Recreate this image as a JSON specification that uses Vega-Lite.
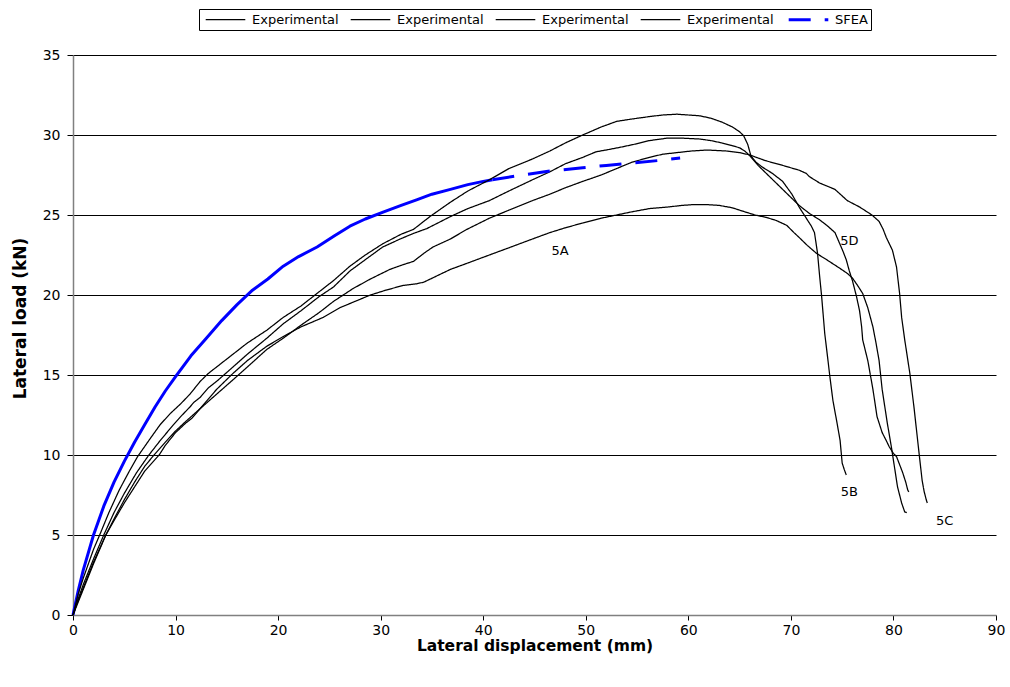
{
  "$schema": "https://vega.github.io/schema/vega-lite/v6.json",
  "width": 923,
  "height": 560,
  "autosize": {"type": "none"},
  "padding": {"left": 73, "top": 55, "right": 14, "bottom": 72},
  "background": "white",
  "config": {"view": {"stroke": null}, "font": "DejaVu Sans"},
  "datasets": {
    "labels": [
      {"label": "5A", "x": 47.5, "y": 22.75},
      {"label": "5B", "x": 75.7, "y": 7.7},
      {"label": "5C", "x": 85.0, "y": 5.9},
      {"label": "5D", "x": 75.7, "y": 23.4}
    ],
    "curves": [
{"series":"5A","x":0,"y":0},{"series":"5A","x":0.5,"y":0.8},{"series":"5A","x":1,"y":1.6},{"series":"5A","x":2,"y":3.2},{"series":"5A","x":3.2,"y":5.0},{"series":"5A","x":4,"y":5.9},{"series":"5A","x":5,"y":7.0},{"series":"5A","x":6,"y":8.0},{"series":"5A","x":7,"y":9.0},{"series":"5A","x":8.4,"y":10.0},{"series":"5A","x":9,"y":10.6},{"series":"5A","x":10,"y":11.4},{"series":"5A","x":11,"y":12.0},{"series":"5A","x":11.6,"y":12.3},{"series":"5A","x":12.4,"y":12.9},{"series":"5A","x":14,"y":14.1},{"series":"5A","x":15.6,"y":15.1},{"series":"5A","x":17,"y":15.9},{"series":"5A","x":18.9,"y":16.8},{"series":"5A","x":20.5,"y":17.4},{"series":"5A","x":22.2,"y":18.0},{"series":"5A","x":24.4,"y":18.6},{"series":"5A","x":26,"y":19.2},{"series":"5A","x":27.5,"y":19.6},{"series":"5A","x":29,"y":20.0},{"series":"5A","x":30.5,"y":20.3},{"series":"5A","x":32.2,"y":20.6},{"series":"5A","x":33.5,"y":20.7},{"series":"5A","x":34.2,"y":20.8},{"series":"5A","x":35.5,"y":21.2},{"series":"5A","x":36.8,"y":21.6},{"series":"5A","x":38.5,"y":22.0},{"series":"5A","x":40.6,"y":22.5},{"series":"5A","x":42.5,"y":22.95},{"series":"5A","x":44.8,"y":23.5},{"series":"5A","x":46.5,"y":23.9},{"series":"5A","x":48,"y":24.2},{"series":"5A","x":49.7,"y":24.5},{"series":"5A","x":51.5,"y":24.8},{"series":"5A","x":53,"y":25.0},{"series":"5A","x":54.5,"y":25.2},{"series":"5A","x":56.2,"y":25.4},{"series":"5A","x":58,"y":25.5},{"series":"5A","x":59.4,"y":25.6},{"series":"5A","x":60.5,"y":25.65},{"series":"5A","x":61.8,"y":25.65},{"series":"5A","x":63,"y":25.6},{"series":"5A","x":64.3,"y":25.45},{"series":"5A","x":65.5,"y":25.2},{"series":"5A","x":66.5,"y":25.0},{"series":"5A","x":67.6,"y":24.85},{"series":"5A","x":68.6,"y":24.65},{"series":"5A","x":69.6,"y":24.35},{"series":"5A","x":70.3,"y":23.9},{"series":"5A","x":70.8,"y":23.6},{"series":"5A","x":71.6,"y":23.1},{"series":"5A","x":72.5,"y":22.6},{"series":"5A","x":73.5,"y":22.2},{"series":"5A","x":74.7,"y":21.7},{"series":"5A","x":75.5,"y":21.35},{"series":"5A","x":76.0,"y":21.06},{"series":"5A","x":76.5,"y":20.6},{"series":"5A","x":77.0,"y":20.1},{"series":"5A","x":77.5,"y":19.2},{"series":"5A","x":78.0,"y":18.0},{"series":"5A","x":78.3,"y":17.0},{"series":"5A","x":78.6,"y":15.9},{"series":"5A","x":78.9,"y":14.1},{"series":"5A","x":79.4,"y":12.0},{"series":"5A","x":79.8,"y":10.5},{"series":"5A","x":80.1,"y":9.25},{"series":"5A","x":80.4,"y":8.0},{"series":"5A","x":80.8,"y":7.0},{"series":"5A","x":81.1,"y":6.44},{"series":"5A","x":81.3,"y":6.4},
{"series":"5B","x":0,"y":0},{"series":"5B","x":0.5,"y":1.3},{"series":"5B","x":1,"y":2.3},{"series":"5B","x":2,"y":4.1},{"series":"5B","x":2.6,"y":5.0},{"series":"5B","x":3.5,"y":6.4},{"series":"5B","x":4.5,"y":7.8},{"series":"5B","x":5.5,"y":9.0},{"series":"5B","x":6.3,"y":9.9},{"series":"5B","x":7.5,"y":11.0},{"series":"5B","x":8.5,"y":11.9},{"series":"5B","x":9.5,"y":12.6},{"series":"5B","x":10,"y":12.9},{"series":"5B","x":10.5,"y":13.2},{"series":"5B","x":11.4,"y":13.8},{"series":"5B","x":12.4,"y":14.6},{"series":"5B","x":13.2,"y":15.1},{"series":"5B","x":14.2,"y":15.6},{"series":"5B","x":15.6,"y":16.3},{"series":"5B","x":17,"y":17.0},{"series":"5B","x":18.9,"y":17.8},{"series":"5B","x":20.5,"y":18.6},{"series":"5B","x":22.2,"y":19.3},{"series":"5B","x":24,"y":20.2},{"series":"5B","x":25.4,"y":20.9},{"series":"5B","x":27,"y":21.8},{"series":"5B","x":28.5,"y":22.5},{"series":"5B","x":30.2,"y":23.2},{"series":"5B","x":32,"y":23.8},{"series":"5B","x":33.2,"y":24.1},{"series":"5B","x":34.8,"y":24.9},{"series":"5B","x":36.8,"y":25.8},{"series":"5B","x":38.5,"y":26.5},{"series":"5B","x":40.6,"y":27.2},{"series":"5B","x":42.5,"y":27.9},{"series":"5B","x":44.8,"y":28.5},{"series":"5B","x":46.5,"y":29.0},{"series":"5B","x":48,"y":29.5},{"series":"5B","x":49.7,"y":30.0},{"series":"5B","x":51.5,"y":30.5},{"series":"5B","x":53,"y":30.85},{"series":"5B","x":54.5,"y":31.0},{"series":"5B","x":56.2,"y":31.15},{"series":"5B","x":57.5,"y":31.25},{"series":"5B","x":58.9,"y":31.3},{"series":"5B","x":60,"y":31.25},{"series":"5B","x":61.1,"y":31.2},{"series":"5B","x":62.2,"y":31.05},{"series":"5B","x":63.3,"y":30.8},{"series":"5B","x":64.3,"y":30.5},{"series":"5B","x":65,"y":30.2},{"series":"5B","x":65.4,"y":29.95},{"series":"5B","x":65.8,"y":29.4},{"series":"5B","x":66.1,"y":28.7},{"series":"5B","x":66.6,"y":28.3},{"series":"5B","x":67.2,"y":28.0},{"series":"5B","x":68.2,"y":27.6},{"series":"5B","x":69.2,"y":27.1},{"series":"5B","x":70.1,"y":26.3},{"series":"5B","x":70.8,"y":25.5},{"series":"5B","x":71.5,"y":24.8},{"series":"5B","x":72.0,"y":24.3},{"series":"5B","x":72.3,"y":23.9},{"series":"5B","x":72.6,"y":22.6},{"series":"5B","x":72.8,"y":21.2},{"series":"5B","x":73.0,"y":19.9},{"series":"5B","x":73.3,"y":17.6},{"series":"5B","x":73.6,"y":16.0},{"series":"5B","x":73.8,"y":14.9},{"series":"5B","x":74.1,"y":13.4},{"series":"5B","x":74.5,"y":12.0},{"series":"5B","x":74.8,"y":10.9},{"series":"5B","x":75.0,"y":9.5},{"series":"5B","x":75.2,"y":9.1},{"series":"5B","x":75.4,"y":8.75},
{"series":"5C","x":0,"y":0},{"series":"5C","x":0.5,"y":0.9},{"series":"5C","x":1,"y":1.7},{"series":"5C","x":2,"y":3.3},{"series":"5C","x":3.2,"y":5.0},{"series":"5C","x":4,"y":6.0},{"series":"5C","x":5,"y":7.2},{"series":"5C","x":6,"y":8.3},{"series":"5C","x":7,"y":9.3},{"series":"5C","x":7.9,"y":10.0},{"series":"5C","x":9,"y":10.8},{"series":"5C","x":10,"y":11.5},{"series":"5C","x":11,"y":12.1},{"series":"5C","x":12.4,"y":12.9},{"series":"5C","x":14,"y":13.8},{"series":"5C","x":15.6,"y":14.7},{"series":"5C","x":17,"y":15.5},{"series":"5C","x":18.9,"y":16.6},{"series":"5C","x":20.5,"y":17.3},{"series":"5C","x":22.2,"y":18.1},{"series":"5C","x":24,"y":18.9},{"series":"5C","x":25.4,"y":19.6},{"series":"5C","x":27.3,"y":20.4},{"series":"5C","x":29,"y":21.0},{"series":"5C","x":30.9,"y":21.6},{"series":"5C","x":32.2,"y":21.9},{"series":"5C","x":33.2,"y":22.1},{"series":"5C","x":34.2,"y":22.6},{"series":"5C","x":35.1,"y":23.0},{"series":"5C","x":36.8,"y":23.5},{"series":"5C","x":38.4,"y":24.1},{"series":"5C","x":40.6,"y":24.8},{"series":"5C","x":42.5,"y":25.3},{"series":"5C","x":44.8,"y":25.9},{"series":"5C","x":46.5,"y":26.3},{"series":"5C","x":48,"y":26.7},{"series":"5C","x":49.7,"y":27.1},{"series":"5C","x":51.5,"y":27.5},{"series":"5C","x":53,"y":27.9},{"series":"5C","x":54.5,"y":28.3},{"series":"5C","x":56.2,"y":28.6},{"series":"5C","x":57.5,"y":28.8},{"series":"5C","x":58.9,"y":28.9},{"series":"5C","x":60.3,"y":29.0},{"series":"5C","x":61.8,"y":29.06},{"series":"5C","x":63.7,"y":29.0},{"series":"5C","x":65,"y":28.9},{"series":"5C","x":66,"y":28.75},{"series":"5C","x":67.5,"y":28.4},{"series":"5C","x":69.2,"y":28.1},{"series":"5C","x":70.8,"y":27.8},{"series":"5C","x":71.5,"y":27.6},{"series":"5C","x":71.8,"y":27.4},{"series":"5C","x":72.3,"y":27.2},{"series":"5C","x":72.8,"y":27.0},{"series":"5C","x":74.3,"y":26.6},{"series":"5C","x":75.5,"y":25.9},{"series":"5C","x":76.7,"y":25.5},{"series":"5C","x":77.9,"y":25.0},{"series":"5C","x":78.6,"y":24.6},{"series":"5C","x":79.0,"y":24.1},{"series":"5C","x":79.3,"y":23.6},{"series":"5C","x":79.9,"y":22.8},{"series":"5C","x":80.3,"y":21.75},{"series":"5C","x":80.6,"y":20.1},{"series":"5C","x":80.8,"y":18.6},{"series":"5C","x":81.1,"y":17.2},{"series":"5C","x":81.6,"y":15.1},{"series":"5C","x":82.0,"y":13.0},{"series":"5C","x":82.5,"y":10.1},{"series":"5C","x":82.8,"y":8.4},{"series":"5C","x":83.0,"y":7.7},{"series":"5C","x":83.2,"y":7.2},{"series":"5C","x":83.3,"y":7.0},
{"series":"5D","x":0,"y":0},{"series":"5D","x":0.5,"y":1.0},{"series":"5D","x":1,"y":1.9},{"series":"5D","x":2,"y":3.5},{"series":"5D","x":3,"y":5.0},{"series":"5D","x":4,"y":6.4},{"series":"5D","x":5,"y":7.6},{"series":"5D","x":6.2,"y":8.9},{"series":"5D","x":7.4,"y":10.0},{"series":"5D","x":8.5,"y":10.9},{"series":"5D","x":9.8,"y":11.9},{"series":"5D","x":10.5,"y":12.4},{"series":"5D","x":11.4,"y":13.0},{"series":"5D","x":11.8,"y":13.3},{"series":"5D","x":12.4,"y":13.6},{"series":"5D","x":13.2,"y":14.2},{"series":"5D","x":14,"y":14.6},{"series":"5D","x":15.6,"y":15.5},{"series":"5D","x":17,"y":16.3},{"series":"5D","x":18.9,"y":17.3},{"series":"5D","x":20.5,"y":18.2},{"series":"5D","x":22.2,"y":19.0},{"series":"5D","x":24,"y":19.9},{"series":"5D","x":25.4,"y":20.5},{"series":"5D","x":27,"y":21.5},{"series":"5D","x":28.7,"y":22.3},{"series":"5D","x":30.2,"y":23.0},{"series":"5D","x":31.9,"y":23.5},{"series":"5D","x":33.2,"y":23.85},{"series":"5D","x":34.5,"y":24.15},{"series":"5D","x":36.8,"y":24.9},{"series":"5D","x":38.5,"y":25.4},{"series":"5D","x":40.6,"y":25.9},{"series":"5D","x":42.5,"y":26.5},{"series":"5D","x":44.8,"y":27.2},{"series":"5D","x":46.5,"y":27.7},{"series":"5D","x":48,"y":28.2},{"series":"5D","x":49.7,"y":28.6},{"series":"5D","x":51,"y":28.95},{"series":"5D","x":52.3,"y":29.1},{"series":"5D","x":53.5,"y":29.25},{"series":"5D","x":54.6,"y":29.4},{"series":"5D","x":56.2,"y":29.65},{"series":"5D","x":57.9,"y":29.8},{"series":"5D","x":59.5,"y":29.8},{"series":"5D","x":61.1,"y":29.75},{"series":"5D","x":62.2,"y":29.65},{"series":"5D","x":63.3,"y":29.5},{"series":"5D","x":64.2,"y":29.35},{"series":"5D","x":65,"y":29.2},{"series":"5D","x":65.5,"y":29.0},{"series":"5D","x":66.0,"y":28.7},{"series":"5D","x":66.8,"y":28.1},{"series":"5D","x":67.6,"y":27.6},{"series":"5D","x":68.4,"y":27.1},{"series":"5D","x":69.2,"y":26.6},{"series":"5D","x":70.0,"y":26.1},{"series":"5D","x":70.8,"y":25.6},{"series":"5D","x":71.8,"y":25.1},{"series":"5D","x":72.8,"y":24.7},{"series":"5D","x":73.6,"y":24.3},{"series":"5D","x":74.3,"y":23.9},{"series":"5D","x":74.7,"y":23.3},{"series":"5D","x":75.1,"y":22.7},{"series":"5D","x":75.4,"y":22.2},{"series":"5D","x":75.7,"y":21.5},{"series":"5D","x":76.0,"y":20.9},{"series":"5D","x":76.4,"y":19.9},{"series":"5D","x":76.7,"y":19.0},{"series":"5D","x":76.9,"y":18.0},{"series":"5D","x":77.0,"y":17.2},{"series":"5D","x":77.5,"y":15.9},{"series":"5D","x":78.0,"y":14.1},{"series":"5D","x":78.4,"y":12.4},{"series":"5D","x":78.9,"y":11.4},{"series":"5D","x":79.3,"y":10.9},{"series":"5D","x":79.6,"y":10.5},{"series":"5D","x":80.0,"y":10.1},{"series":"5D","x":80.3,"y":9.9},{"series":"5D","x":80.6,"y":9.4},{"series":"5D","x":80.9,"y":8.9},{"series":"5D","x":81.2,"y":8.3},{"series":"5D","x":81.4,"y":7.8},{"series":"5D","x":81.5,"y":7.7},
{"series":"SFEA","x":0,"y":0},{"series":"SFEA","x":0.5,"y":1.5},{"series":"SFEA","x":1,"y":2.8},{"series":"SFEA","x":2,"y":5.0},{"series":"SFEA","x":3,"y":6.8},{"series":"SFEA","x":4,"y":8.3},{"series":"SFEA","x":5,"y":9.6},{"series":"SFEA","x":6,"y":10.8},{"series":"SFEA","x":7,"y":11.9},{"series":"SFEA","x":8,"y":13.0},{"series":"SFEA","x":9,"y":14.0},{"series":"SFEA","x":10,"y":14.9},{"series":"SFEA","x":11.5,"y":16.2},{"series":"SFEA","x":13,"y":17.3},{"series":"SFEA","x":14.5,"y":18.4},{"series":"SFEA","x":16,"y":19.4},{"series":"SFEA","x":17.5,"y":20.3},{"series":"SFEA","x":19,"y":21.0},{"series":"SFEA","x":20.5,"y":21.8},{"series":"SFEA","x":22,"y":22.4},{"series":"SFEA","x":23.8,"y":23.0},{"series":"SFEA","x":25.5,"y":23.7},{"series":"SFEA","x":27,"y":24.3},{"series":"SFEA","x":28.5,"y":24.75},{"series":"SFEA","x":30.3,"y":25.2},{"series":"SFEA","x":32,"y":25.6},{"series":"SFEA","x":33.5,"y":25.95},{"series":"SFEA","x":35,"y":26.3},{"series":"SFEA","x":36.8,"y":26.6},{"series":"SFEA","x":38.5,"y":26.9},{"series":"SFEA","x":40,"y":27.1},{"series":"SFEA","x":40.9,"y":27.2},{"series":"SFEA","x":43.3,"y":27.45},{"series":"SFEA","x":46.5,"y":27.75},{"series":"SFEA","x":49.7,"y":27.95},{"series":"SFEA","x":52,"y":28.1},{"series":"SFEA","x":54.6,"y":28.25},{"series":"SFEA","x":57,"y":28.4},{"series":"SFEA","x":59.2,"y":28.56}
    ]
  },
  "layer": [
    {
      "data": {"name": "curves"},
      "transform": [{"filter": "datum.series == 'SFEA' && datum.x <= 40.9"}],
      "mark": {"type": "line", "color": "#0000ff", "strokeWidth": 3, "strokeJoin": "round"},
      "encoding": {
        "x": {"field": "x", "type": "quantitative"},
        "y": {"field": "y", "type": "quantitative"}
      }
    },
    {
      "data": {"name": "curves"},
      "transform": [{"filter": "datum.series != 'SFEA' || datum.x >= 40.9"}],
      "mark": {"type": "line", "strokeJoin": "round", "strokeCap": "butt"},
      "encoding": {
        "x": {
          "field": "x", "type": "quantitative",
          "scale": {"domain": [0, 90], "nice": false},
          "axis": {
            "title": "Lateral displacement (mm)",
            "values": [0, 10, 20, 30, 40, 50, 60, 70, 80, 90],
            "grid": false,
            "domainColor": "#808080", "domainWidth": 1.5,
            "tickColor": "#000000", "tickSize": 5, "tickWidth": 1,
            "labelFontSize": 14, "labelColor": "#000000", "labelPadding": 3, "labelFlush": false,
            "titleFontSize": 15.5, "titleFontWeight": "bold", "titleColor": "#000000",
            "titleBaseline": "alphabetic", "titleY": 35
          }
        },
        "y": {
          "field": "y", "type": "quantitative",
          "scale": {"domain": [0, 35], "nice": false},
          "axis": {
            "title": "Lateral load (kN)",
            "values": [0, 5, 10, 15, 20, 25, 30, 35],
            "grid": true,
            "gridColor": {"condition": {"test": "datum.value == 0", "value": "#808080"}, "value": "#000000"},
            "gridWidth": 1,
            "domainColor": "#808080", "domainWidth": 1.5,
            "tickColor": "#000000", "tickSize": 6, "tickWidth": 1,
            "labelFontSize": 14, "labelColor": "#000000", "labelPadding": 7,
            "titleFontSize": 17, "titleFontWeight": "bold", "titleColor": "#000000",
            "titleBaseline": "alphabetic", "titleX": -48, "titleY": 263, "titleAlign": "center", "titleAngle": -90
          }
        },
        "color": {
          "field": "series", "type": "nominal",
          "scale": {"domain": ["5A", "5B", "5C", "5D", "SFEA"], "range": ["#000000", "#000000", "#000000", "#000000", "#0000ff"]},
          "legend": {
            "title": null,
            "orient": "none",
            "legendX": 126,
            "legendY": -46,
            "direction": "horizontal",
            "columns": 5,
            "symbolType": "M-3.3,0L3.3,0",
            "symbolSize": 144,
            "symbolOffset": 16,
            "labelExpr": "datum.label == 'SFEA' ? 'SFEA' : 'Experimental'",
            "labelFontSize": 13,
            "labelColor": "#000000",
            "labelOffset": 19,
            "columnPadding": 8,
            "strokeColor": "#000000",
            "fillColor": "#ffffff",
            "padding": 3,
            "cornerRadius": 0
          }
        },
        "strokeDash": {
          "field": "series", "type": "nominal",
          "scale": {"domain": ["5A", "5B", "5C", "5D", "SFEA"], "range": [[1, 0], [1, 0], [1, 0], [1, 0], [22, 14]]}
        },
        "strokeWidth": {
          "field": "series", "type": "nominal",
          "scale": {"type": "ordinal", "domain": ["5A", "5B", "5C", "5D", "SFEA"], "range": [1.25, 1.25, 1.25, 1.25, 3]}
        }
      }
    },
    {
      "data": {"name": "labels"},
      "mark": {"type": "text", "fontSize": 13, "font": "DejaVu Sans", "color": "#000000", "align": "center", "baseline": "middle"},
      "encoding": {
        "x": {"field": "x", "type": "quantitative"},
        "y": {"field": "y", "type": "quantitative"},
        "text": {"field": "label"}
      }
    }
  ]
}
